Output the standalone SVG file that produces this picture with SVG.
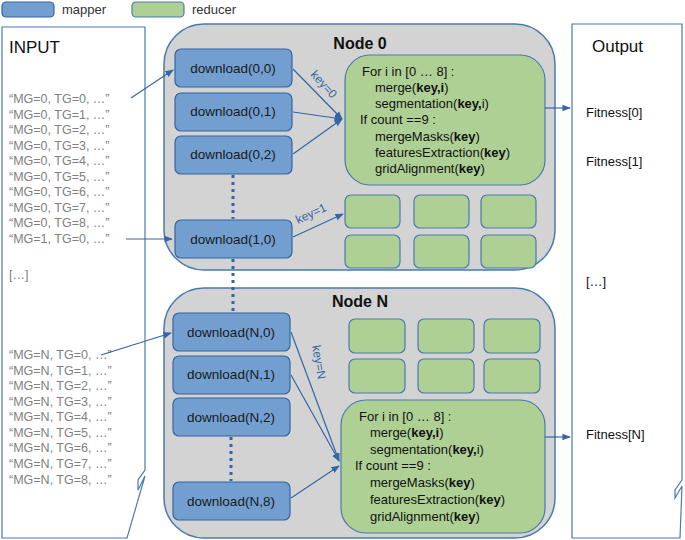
<svg xmlns="http://www.w3.org/2000/svg" width="685" height="540" viewBox="0 0 685 540">
<defs>
<style>
text{font-family:"Liberation Sans",Arial,sans-serif}
.map{fill:#729fcf;stroke:#3465a4;stroke-width:1.2}
.red{fill:#afd095;stroke:#4a7ab0;stroke-width:1.2}
.node{fill:#d3d3d3;stroke:#4a7ab0;stroke-width:1.5}
.doc{fill:#fff;stroke:#4a7ab0;stroke-width:1.2}
.mt{font-size:13.5px;fill:#1a1a1a;text-anchor:middle}
.in{font-size:12.5px;fill:#808080}
.rt{font-size:13px;fill:#111}
.ln{stroke:#3465a4;stroke-width:1.2;fill:none}
.dot{stroke:#3465a4;stroke-width:3;stroke-dasharray:3,4;fill:none}
.k{font-size:12px;fill:#3465a4}
</style>
<marker id="a" viewBox="0 0 10 10" refX="9" refY="5" markerWidth="7" markerHeight="7" orient="auto"><path d="M0,1 L10,5 L0,9z" fill="#3465a4"/></marker>
</defs>
<g id="legend">
<rect x="2" y="2" width="52" height="15" rx="4" class="map"/><text x="62" y="14" font-size="13" fill="#333">mapper</text>
<rect x="132" y="2" width="52" height="15" rx="4" class="red"/><text x="192" y="14" font-size="13" fill="#333">reducer</text>
</g>
<g id="input">
<path class="doc" d="M2,27 H145 V470 L138,480 V490 L145,476 L127,538 H2 Z"/>
<text x="9" y="53" font-size="17" fill="#111">INPUT</text>
<g class="in">
<text x="9" y="103">“MG=0, TG=0, …”</text><text x="9" y="119">“MG=0, TG=1, …”</text><text x="9" y="134">“MG=0, TG=2, …”</text><text x="9" y="150">“MG=0, TG=3, …”</text><text x="9" y="165">“MG=0, TG=4, …”</text><text x="9" y="181">“MG=0, TG=5, …”</text><text x="9" y="196">“MG=0, TG=6, …”</text><text x="9" y="212">“MG=0, TG=7, …”</text><text x="9" y="227">“MG=0, TG=8, …”</text><text x="9" y="243">“MG=1, TG=0, …”</text>
<text x="9" y="279">[…]</text>
<text x="9" y="359">“MG=N, TG=0, …”</text><text x="9" y="375">“MG=N, TG=1, …”</text><text x="9" y="390">“MG=N, TG=2, …”</text><text x="9" y="406">“MG=N, TG=3, …”</text><text x="9" y="421">“MG=N, TG=4, …”</text><text x="9" y="437">“MG=N, TG=5, …”</text><text x="9" y="452">“MG=N, TG=6, …”</text><text x="9" y="468">“MG=N, TG=7, …”</text><text x="9" y="484">“MG=N, TG=8, …”</text>
</g>
</g>
<g id="output">
<path class="doc" d="M572,24 H682 V480 L675,490 V498 L682,486 L680,538 H572 Z"/>
<text x="592" y="52" font-size="17" fill="#111">Output</text>
<text x="586" y="117" class="rt">Fitness[0]</text>
<text x="586" y="166" class="rt">Fitness[1]</text>
<text x="586" y="286" class="rt">[…]</text>
<text x="586" y="439" class="rt">Fitness[N]</text>
</g>
<g id="node0">
<rect x="164" y="24" width="391" height="246" rx="40" class="node"/>
<text x="360" y="49" font-size="16" font-weight="bold" text-anchor="middle" fill="#111">Node 0</text>
<rect x="175" y="49" width="117" height="38" rx="6" class="map"/><text x="233" y="73" class="mt">download(0,0)</text>
<rect x="175" y="93" width="117" height="38" rx="6" class="map"/><text x="233" y="116" class="mt">download(0,1)</text>
<rect x="175" y="136" width="117" height="38" rx="6" class="map"/><text x="233" y="159" class="mt">download(0,2)</text>
<rect x="175" y="220" width="117" height="38" rx="6" class="map"/><text x="233" y="244" class="mt">download(1,0)</text>
<rect x="345" y="55" width="200" height="130" rx="25" class="red"/>
<g class="rt"><text x="362" y="76">For i  in [0 … 8] :</text><text x="375" y="92">merge(<tspan font-weight="bold">key,i</tspan>)</text><text x="375" y="108">segmentation(<tspan font-weight="bold">key,</tspan>i)</text><text x="360" y="124">If count  ==9 :</text><text x="375" y="141">mergeMasks(<tspan font-weight="bold">key</tspan>)</text><text x="375" y="157">featuresExtraction(<tspan font-weight="bold">key</tspan>)</text><text x="375" y="173">gridAlignment(<tspan font-weight="bold">key</tspan>)</text></g>
<rect x="345" y="195" width="55" height="33" rx="6" class="red"/><rect x="414" y="195" width="55" height="33" rx="6" class="red"/><rect x="481" y="195" width="55" height="33" rx="6" class="red"/>
<rect x="345" y="235" width="55" height="33" rx="6" class="red"/><rect x="414" y="235" width="55" height="33" rx="6" class="red"/><rect x="481" y="235" width="55" height="33" rx="6" class="red"/>
</g>
<g id="nodeN">
<rect x="164" y="288" width="391" height="250" rx="40" class="node"/>
<text x="360" y="307" font-size="16" font-weight="bold" text-anchor="middle" fill="#111">Node N</text>
<rect x="173" y="313" width="117" height="38" rx="6" class="map"/><text x="231" y="337" class="mt">download(N,0)</text>
<rect x="173" y="356" width="117" height="38" rx="6" class="map"/><text x="231" y="379" class="mt">download(N,1)</text>
<rect x="173" y="398" width="117" height="38" rx="6" class="map"/><text x="231" y="422" class="mt">download(N,2)</text>
<rect x="173" y="482" width="117" height="38" rx="6" class="map"/><text x="231" y="506" class="mt">download(N,8)</text>
<rect x="341" y="400" width="204" height="133" rx="25" class="red"/>
<g class="rt"><text x="359" y="421">For i  in [0 … 8] :</text><text x="370" y="437">merge(<tspan font-weight="bold">key,i</tspan>)</text><text x="370" y="454">segmentation(<tspan font-weight="bold">key,</tspan>i)</text><text x="355" y="470">If count  ==9 :</text><text x="370" y="487">mergeMasks(<tspan font-weight="bold">key</tspan>)</text><text x="370" y="504">featuresExtraction(<tspan font-weight="bold">key</tspan>)</text><text x="370" y="521">gridAlignment(<tspan font-weight="bold">key</tspan>)</text></g>
<rect x="349" y="319" width="56" height="34" rx="6" class="red"/><rect x="418" y="319" width="56" height="34" rx="6" class="red"/><rect x="484" y="319" width="56" height="34" rx="6" class="red"/>
<rect x="349" y="359" width="56" height="34" rx="6" class="red"/><rect x="418" y="359" width="56" height="34" rx="6" class="red"/><rect x="484" y="359" width="56" height="34" rx="6" class="red"/>
</g>
<g id="connectors">
<line x1="131" y1="98" x2="173" y2="70" class="ln" marker-end="url(#a)"/>
<line x1="126" y1="239" x2="172" y2="239" class="ln" marker-end="url(#a)"/>
<line x1="101" y1="355" x2="171" y2="333" class="ln" marker-end="url(#a)"/>
<line x1="293" y1="69" x2="342" y2="119" class="ln" marker-end="url(#a)"/>
<line x1="293" y1="112" x2="342" y2="119" class="ln" marker-end="url(#a)"/>
<line x1="293" y1="154" x2="342" y2="119" class="ln" marker-end="url(#a)"/>
<line x1="293" y1="237" x2="343" y2="214" class="ln" marker-end="url(#a)"/>
<line x1="291" y1="332" x2="339" y2="461" class="ln" marker-end="url(#a)"/>
<line x1="291" y1="375" x2="339" y2="461" class="ln" marker-end="url(#a)"/>
<line x1="291" y1="498" x2="339" y2="466" class="ln" marker-end="url(#a)"/>
<line x1="545" y1="108" x2="570" y2="108" class="ln" marker-end="url(#a)"/>
<line x1="545" y1="437" x2="570" y2="437" class="ln" marker-end="url(#a)"/>
<line x1="233" y1="175" x2="233" y2="219" class="dot"/>
<line x1="233" y1="259" x2="233" y2="312" class="dot"/>
<line x1="231" y1="437" x2="231" y2="481" class="dot"/>
<text class="k" transform="translate(310,75) rotate(48)">key=0</text>
<text class="k" transform="translate(298,224) rotate(-25)">key=1</text>
<text class="k" transform="translate(312,346) rotate(80)">key=N</text>
</g>
</svg>
